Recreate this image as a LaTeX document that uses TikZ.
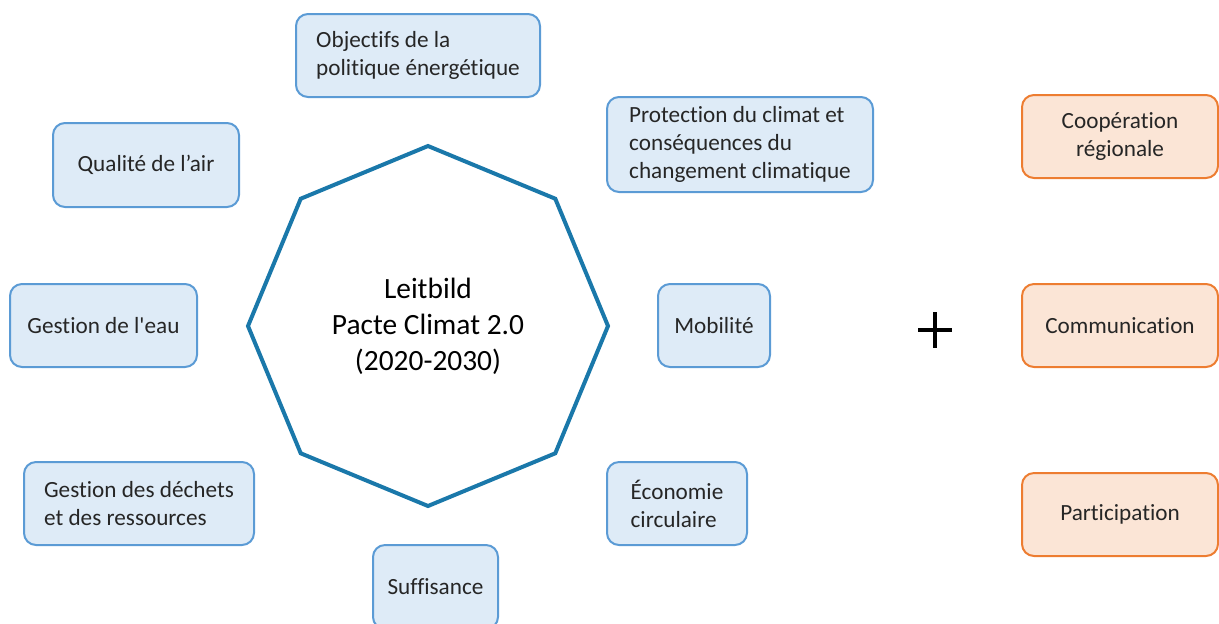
\documentclass[tikz,border=0pt]{standalone}
\usepackage{fontspec}
\setmainfont{Carlito}[Ligatures={NoCommon,TeXOff}]
\usepackage{xcolor}
\definecolor{ThemeBlue}{HTML}{5B9BD5}
\definecolor{ThemeBlueFill}{HTML}{DEEBF7}
\definecolor{ThemeOrange}{HTML}{ED7D31}
\definecolor{ThemeOrangeFill}{HTML}{FBE5D6}
\definecolor{OctaBlue}{HTML}{1A78AA}
\definecolor{TextGrey}{HTML}{262626}
\usetikzlibrary{shapes.geometric, positioning}
\tikzset{
  % Box styles
  themebox/.style={rectangle, rounded corners=6pt, draw=ThemeBlue, fill=ThemeBlueFill, line width=1pt, text=TextGrey, font=\fontsize{11.6}{14}\selectfont, align=left, inner sep=0pt},
  actionbox/.style={rectangle, rounded corners=6pt, draw=ThemeOrange, fill=ThemeOrangeFill, line width=1pt, text=TextGrey, font=\fontsize{11.6}{14}\selectfont, align=center, inner sep=0pt, minimum width=98pt, minimum height=41.5pt},
  % Centre style
  octagon/.style={regular polygon, regular polygon sides=8, shape border rotate=22.5, draw=OctaBlue, line width=2pt, minimum size=180pt, inner sep=0pt, font=\fontsize{14.7}{18}\selectfont, align=center},
  % Plus style
  plusline/.style={line width=2.3pt, black}
}

\begin{document}
\begin{tikzpicture}[x=0.5pt, y=-0.5pt]
  \useasboundingbox (0,0) rectangle (1219,623);

  % Centre
  \node[octagon] (leitbild) at (428,326) {Leitbild\\Pacte Climat 2.0\\(2020-2030)};

  % Themes around the centre
  \node[themebox, minimum width=122pt, minimum height=41.5pt] (energie) at (418,55.5) {Objectifs de la\\politique énergétique};
  \node[themebox, minimum width=133pt, minimum height=47.5pt] (climat) at (740,144.5) {Protection du climat et\\conséquences du\\changement climatique};
  \node[themebox, minimum width=93pt, minimum height=42pt] (air) at (146,165) {Qualité de l’air};
  \node[themebox, minimum width=93.5pt, minimum height=41.5pt] (eau) at (103.5,325.5) {Gestion de l'eau};
  \node[themebox, minimum width=56pt, minimum height=41.5pt] (mobilite) at (714,325.5) {Mobilité};
  \node[themebox, minimum width=115pt, minimum height=41.5pt] (dechets) at (139,503.5) {Gestion des déchets\\et des ressources};
  \node[themebox, minimum width=70pt, minimum height=41.5pt] (economie) at (677,503.5) {Économie\\circulaire};
  \node[themebox, minimum width=62.5pt, minimum height=42pt] (suffisance) at (435.5,587) {Suffisance};

  % Plus
  \coordinate (plus) at (935,330);
  \draw[plusline] ([xshift=-8.5pt]plus) -- ([xshift=8.5pt]plus);
  \draw[plusline] ([yshift=9pt]plus) -- ([yshift=-9pt]plus);

  % Cross-cutting actions
  \node[actionbox] (cooperation) at (1120,136.5) {Coopération\\régionale};
  \node[actionbox] (communication) at (1120,325.5) {Communication};
  \node[actionbox] (participation) at (1120,514.5) {Participation};
\end{tikzpicture}
\end{document}
